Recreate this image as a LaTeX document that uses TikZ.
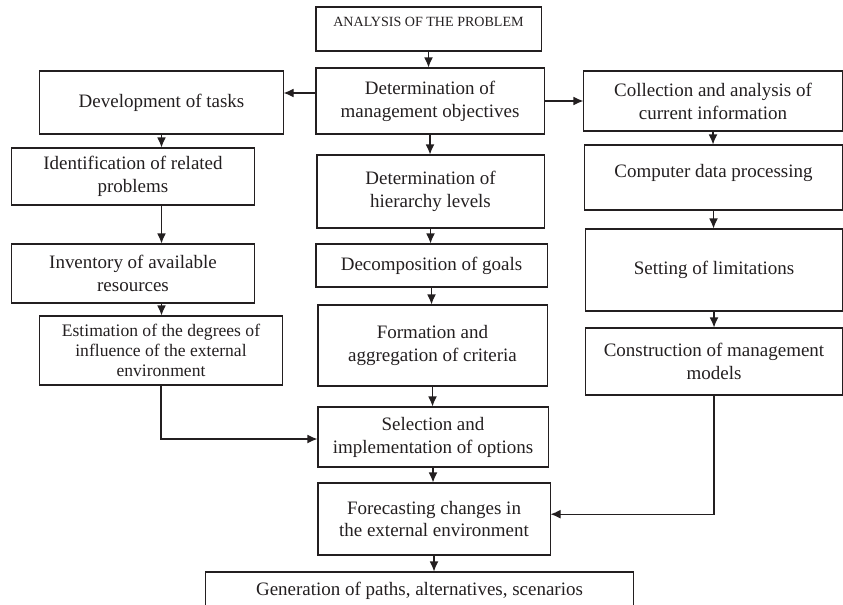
\documentclass[tikz,border=0pt]{standalone}
\usepackage{fontspec}
\setmainfont{Liberation Serif}
\usetikzlibrary{arrows.meta,positioning,calc}
\definecolor{flowLine}{HTML}{231F20}
\tikzset{
    stageBox/.style={
        rectangle,
        draw=flowLine,
        line width=0.75pt,
        align=center,
        inner sep=2pt,
        text=flowLine,
        font=\fontsize{13.5}{16.3}\selectfont
    },
    % Arrows
    flowArrow/.style={-{Latex[length=0.25cm, width=0.22cm]}, line width=0.8pt, draw=flowLine}
}

\begin{document}
\begin{tikzpicture}[x=0.025cm, y=-0.025cm]
\useasboundingbox (0,0) rectangle (843,605);

% --- Middle column ---
\node[stageBox, minimum width=5.625cm, font=\fontsize{10}{12}\selectfont, text height=0.5cm, text depth=0.6cm, inner sep=0pt] (analysis) at (428.5,29) {ANALYSIS OF THE PROBLEM};
\node[stageBox, minimum width=5.7cm, minimum height=1.65cm] (objectives) at (430,101) {Determination of\\management objectives};
\node[stageBox, minimum width=5.675cm, minimum height=1.825cm] (hierarchy) at (430.5,191.5) {Determination of\\hierarchy levels};
\node[stageBox, minimum width=5.775cm, minimum height=1.075cm] (decomposition) at (431.5,265.5) {Decomposition of goals};
\node[stageBox, minimum width=5.725cm, minimum height=2.025cm] (criteria) at (432.5,345.5) {Formation and\\aggregation of criteria};
\node[stageBox, minimum width=5.75cm, minimum height=1.5cm] (options) at (433,437) {Selection and\\implementation of options};
\node[stageBox, minimum width=5.8cm, minimum height=1.8cm] (forecasting) at (434,519) {Forecasting changes in\\the external environment};
\node[stageBox, minimum width=10.675cm, minimum height=0.95cm] (generation) at (419.5,591) {Generation of paths, alternatives, scenarios};

% --- Left column ---
\node[stageBox, minimum width=6.075cm, minimum height=1.575cm] (tasks) at (161.5,102.5) {Development of tasks};
\node[stageBox, minimum width=6.05cm, minimum height=1.425cm] (related) at (133,176.5) {Identification of related\\problems};
\node[stageBox, minimum width=6.05cm, minimum height=1.475cm] (resources) at (133,273.5) {Inventory of available\\resources};
\node[stageBox, minimum width=6.05cm, minimum height=1.725cm, font=\fontsize{12.5}{14.2}\selectfont] (influence) at (161,350.5) {Estimation of the degrees of\\influence of the external\\environment};

% --- Right column ---
\node[stageBox, minimum width=6.45cm, minimum height=1.5cm] (collection) at (713,101) {Collection and analysis of\\current information};
\node[stageBox, minimum width=6.425cm, minimum height=1.625cm, text depth=0.35cm] (computer) at (713.5,177.5) {Computer data processing};
\node[stageBox, minimum width=6.4cm, minimum height=2.05cm] (limitations) at (714,270) {Setting of limitations};
\node[stageBox, minimum width=6.4cm, minimum height=1.675cm] (models) at (714,361.5) {Construction of management\\models};

% Middle chain
\draw[flowArrow] (analysis.south) -- (analysis.south |- objectives.north);
\foreach \a/\b in {objectives/hierarchy, hierarchy/decomposition, decomposition/criteria, criteria/options, options/forecasting, forecasting/generation}{
    \draw[flowArrow] (\a.south) -- (\a.south |- \b.north);
}

% Side branches
\draw[flowArrow] ([yshift=0.2cm]objectives.west) -- ([yshift=0.2cm]objectives.west -| tasks.east);
\draw[flowArrow] (objectives.east) -- (objectives.east -| collection.west);

% Left chain
\draw[flowArrow] (tasks.south) -- (tasks.south |- related.north);
\draw[flowArrow] (related.south -| tasks.south) -- (resources.north -| tasks.south);
\draw[flowArrow] (resources.south -| tasks.south) -- (influence.north -| tasks.south);
\draw[flowArrow] (influence.south) |- ([yshift=-0.05cm]options.west);

% Right chain
\draw[flowArrow] (collection.south) -- (collection.south |- computer.north);
\draw[flowArrow] (computer.south) -- (computer.south |- limitations.north);
\draw[flowArrow] (limitations.south) -- (limitations.south |- models.north);
\draw[flowArrow] (models.south) |- ([yshift=0.12cm]forecasting.east);

\end{tikzpicture}
\end{document}
